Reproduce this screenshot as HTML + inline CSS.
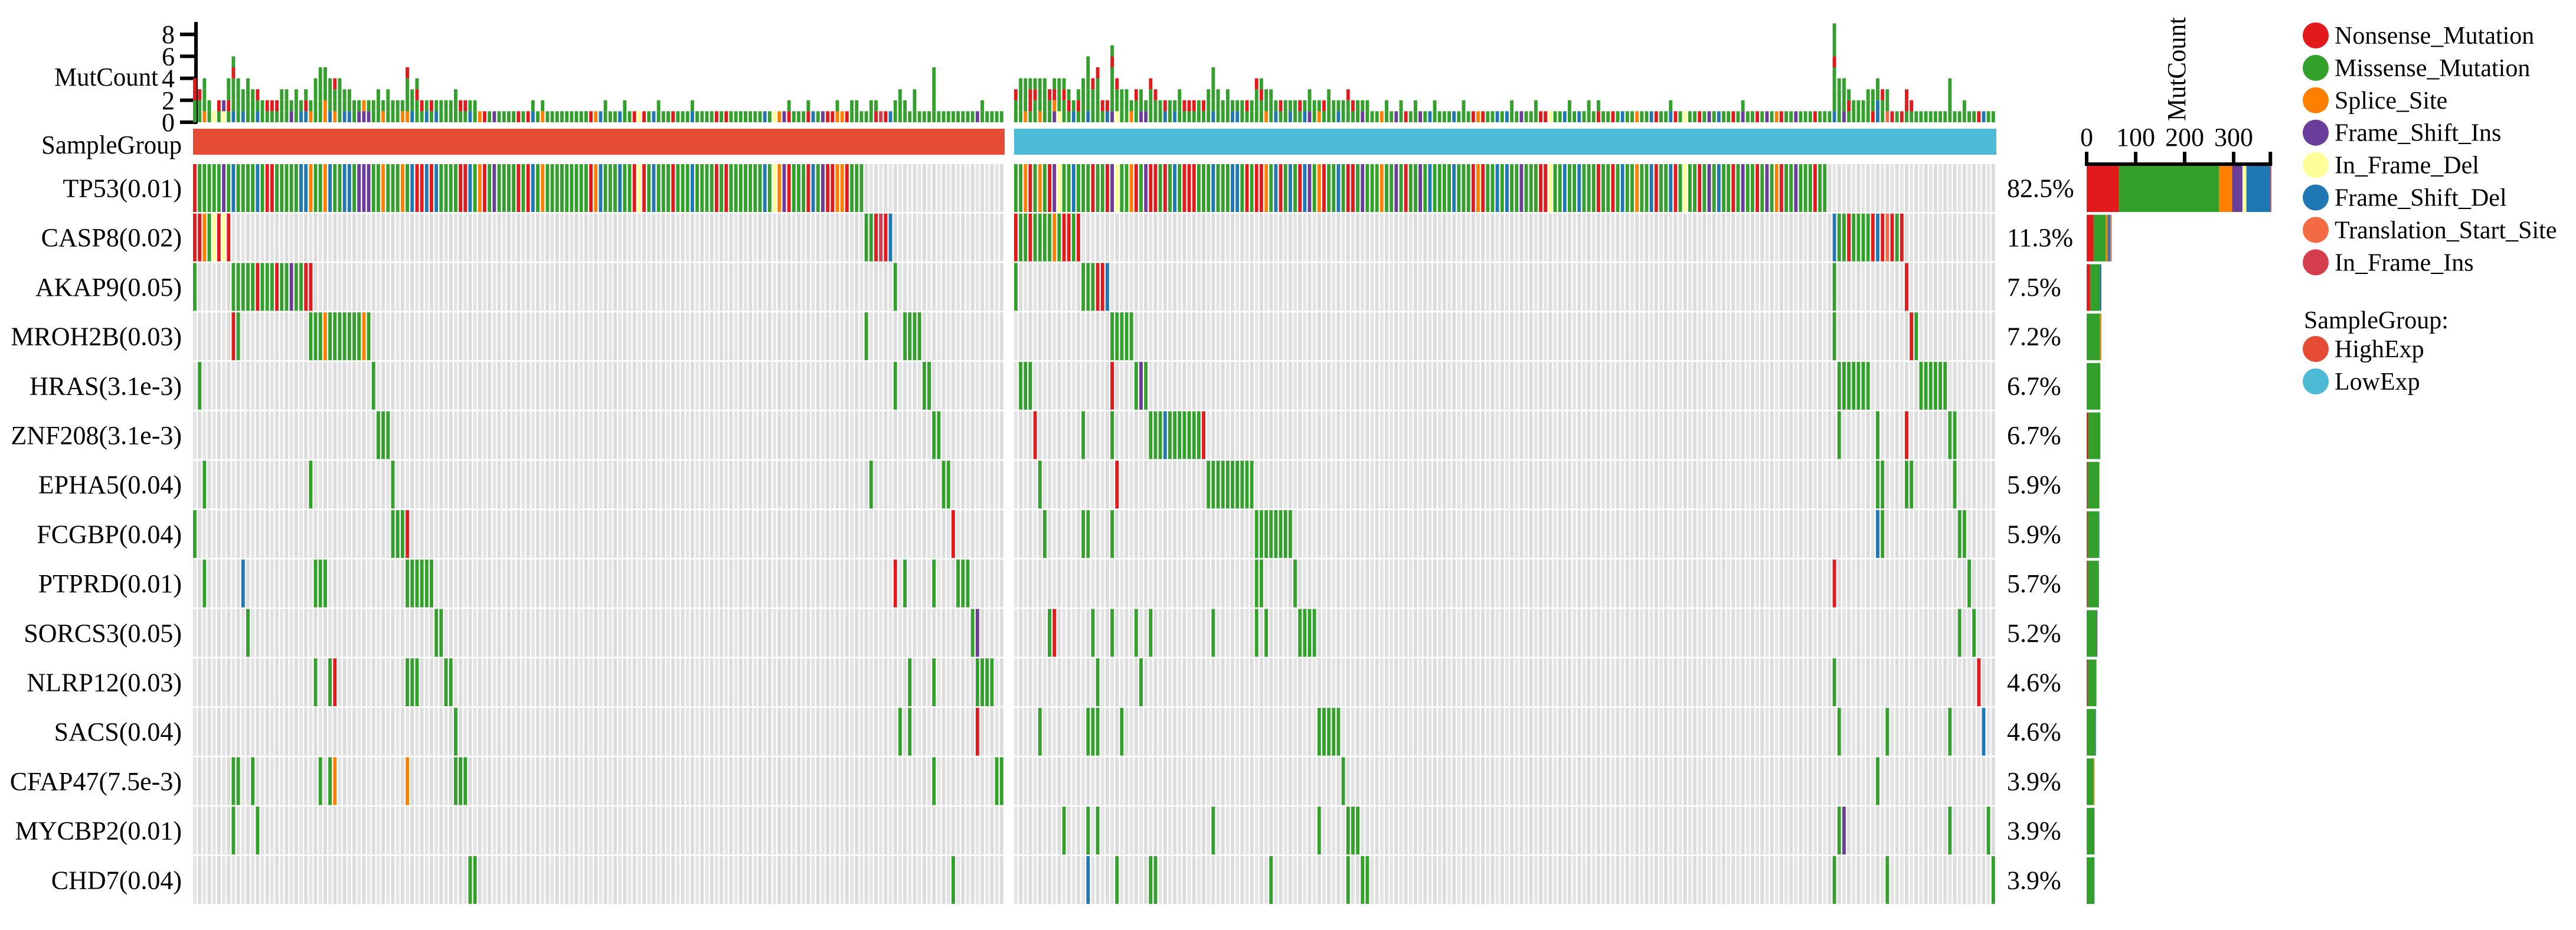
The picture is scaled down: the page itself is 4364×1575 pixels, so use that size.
<!DOCTYPE html>
<html><head><meta charset="utf-8">
<style>
html,body{margin:0;padding:0;background:#fff;}
svg{display:block;font-family:"Liberation Serif",serif;}
</style></head>
<body>
<svg id="chart" xmlns="http://www.w3.org/2000/svg" width="4364" height="1575" viewBox="0 0 4364 1575">
<g id="top-axis"></g>
<g id="top-bars"></g>
<g id="group-bar"></g>
<g id="grid"></g>
<g id="labels"></g>
<g id="rbars"></g>
<g id="legend"></g>
</svg>
<script>
const genes = ["TP53(0.01)","CASP8(0.02)","AKAP9(0.05)","MROH2B(0.03)","HRAS(3.1e-3)","ZNF208(3.1e-3)","EPHA5(0.04)","FCGBP(0.04)","PTPRD(0.01)","SORCS3(0.05)","NLRP12(0.03)","SACS(0.04)","CFAP47(7.5e-3)","MYCBP2(0.01)","CHD7(0.04)"];
const percents = ["82.5%","11.3%","7.5%","7.2%","6.7%","6.7%","5.9%","5.9%","5.7%","5.2%","4.6%","4.6%","3.9%","3.9%","3.9%"];
const groups = ["HighExp","LowExp"];
const groupSizes = [168, 204];
const mutTypes = ["Nonsense_Mutation","Missense_Mutation","Splice_Site","Frame_Shift_Ins","In_Frame_Del","Frame_Shift_Del","Translation_Start_Site","In_Frame_Ins"];
const typeCodes = ["N","M","S","I","D","F","T","J"];
const typeColors = ["#E31A1C","#33A02C","#FF7F00","#6A3D9A","#FFFF99","#1F78B4","#F26B43","#D53E4F"];
const groupColors = ["#E64B35","#4DBBD5"];
// run-length coded mutation rows, HighExp panel
const mutHigh = [
"N M5 I M F M4 F M N2 M5 F2 S M2 S F M2 F2 M I3 M2 S M3 S M F N2 F N F M4 N2 F M S N M I M4 N M N F M S M9 N S F M3 F M2 N D N M F M3 N M3 F M4 N M N M7 F M D S I N M3 N F M I N2 S2 N M3",
"N2 S M D N D N .131 M2 N J N F .23",
"M .7 M5 N M3 N M2 I M2 N2 .120 M .22",
".8 N M .14 M3 S M7 S M .102 M .7 M4 .17",
".1 M .35 M .107 M .5 M2 .15",
".38 M3 .112 M2 .13",
".2 M .21 M .16 M .98 M .14 M2 .11",
"M .40 M3 N .112 N .10",
".2 M .7 F .14 M3 .16 M6 .95 N .1 M .5 M .4 M3 .7",
".11 M .38 M2 .109 M I .5",
".25 M .2 M N .14 M3 .5 M2 .94 M .4 M .8 M4 .2",
".54 M .91 M .1 M .13 N .5",
".8 M2 .2 M .13 M .1 M S .14 S .9 M3 .96 M .12 M2",
".8 M .4 M .154",
".57 M2 .98 M .10"
];
// LowExp panel
const mutLow = [
"M2 S N M S M N I D M2 F M3 N M2 N I D M2 S N M I N2 M N M F M N3 M3 F M3 F2 M N M N2 S M F N M F M N F I M S N M2 F M N2 M I M3 S M2 I M N M2 I M F M4 F M3 N S N M2 F M F M2 I M3 N2 D M2 F M2 F M M2 N M2 N M F M2 S M2 F N M2 F N M D M2 N M I M F M2 N M I M2 N M I M S N M2 I M3 N M2",
"N M2 N M4 S M N2 M N .156 F M2 N M4 N F N T N M N .19",
"M .13 M3 N2 F .150 M .14 N .18",
".20 M5 .145 M .15 N M .16",
".1 M3 .16 N .4 M I M .143 M7 .10 M6 .10",
".4 N .9 M .5 M .7 M3 F M7 N .131 M .7 M .5 N .8 M2 .8",
".5 M .15 N .18 M10 .129 M2 .4 M2 .8 M .8",
".6 M .7 M2 .4 M .29 M8 .121 F M .15 M2 .6",
".50 M2 .6 M .111 N .27 M .5",
".7 M N .7 M .3 M .4 M .2 M .12 M .8 M .1 M .6 M4 .133 M .2 M .4",
".17 M .8 M .143 M .29 N .3",
".5 M .9 M3 .4 M .40 M5 .103 M .9 M .12 M .6 F .2",
".68 M .110 M .24",
".10 M .4 M .1 M .23 M .21 M .5 M3 .99 M I .21 M .7 M .1",
".15 F .5 M .6 M2 .23 M .15 M .2 M2 .96 M .10 M .21 M"
];
// per-sample total mutation counts (run-length: value x count)
const countsHigh = "4 3 4 2 1 2 2 4 6 4 3 4 3 3 2 2 2 2 3 3 2 3 2 3 2 4 5 5 4 4 4 3 3 2 2 2 2 2 3 2 3 2 2 2 5 3 4 2x7 3 2x4 1x11 2 1 2 1x12 2 1x3 2 1x6 2 1x6 2 1x19 2 1x3 2 1x5 2 1x2 2x2 1x2 2x2 1x3 2 3 2 1 3 1x3 5 1x3 1 1x5 2 1x4";
const countsLow = "3 4x6 3 4x3 3 2 3 4 6 4 5 2 2 7 4 3 3 2 3 3 2 4 3 2x4 3 2x5 3 5 3 2 3 2x5 4 4 3 3 2x7 3 2x3 3 2x3 3 2x4 1x3 2 1x2 2 1x2 2 1x3 2 1x5 2 1x9 2 1x4 2 1x6 2 1x3 2 1 2 1x14 2 1x14 2 1x18 9 4 4 3 2x3 3 3 4 3 3 1x3 3 2 1x7 4 1x2 2 1x6";
// right bar counts per gene: N,M,S,I,D,F,T,J
const geneTypeCounts = [
[66,204,27,21,8,49,0,2],[14,25,4,0,0,5,3,0],[7,20,0,0,0,3,0,0],[0,27,3,0,0,0,0,0],[0,28,0,0,0,0,0,0],
[3,25,0,0,0,0,0,0],[2,24,0,0,0,0,0,0],[2,23,0,0,0,1,0,0],[2,22,0,0,0,1,0,0],[1,20,0,1,0,0,0,0],
[2,18,0,0,0,0,0,0],[0,18,0,0,0,1,0,0],[0,14,2,0,0,0,0,0],[0,15,0,1,0,0,0,0],[0,15,0,0,0,1,0,0]];
const topTicks = [0,2,4,6,8];
const rightTicks = [0,100,200,300];

const NS="http://www.w3.org/2000/svg";
function mk(tag, attrs, parent){const e=document.createElementNS(NS,tag);for(const k in attrs)e.setAttribute(k,attrs[k]);parent.appendChild(e);return e;}
function decode(s,n){let out=[];s.trim().split(/\s+/).forEach(t=>{const c=t[0];const k=t.length>1?parseInt(t.slice(1)):1;for(let i=0;i<k;i++)out.push(c);});while(out.length<n)out.push(".");return out.slice(0,n);}
function decodeCounts(s,n){let out=[];s.trim().split(/\s+/).forEach(t=>{const p=t.split("x");const v=+p[0];const k=p.length>1?+p[1]:1;for(let i=0;i<k;i++)out.push(v);});while(out.length<n)out.push(1);return out.slice(0,n);}

const panels=[{x0:327,x1:1702,n:groupSizes[0],rows:mutHigh,counts:decodeCounts(countsHigh,groupSizes[0])},
              {x0:1718,x1:3382,n:groupSizes[1],rows:mutLow,counts:decodeCounts(countsLow,groupSizes[1])}];
const rowY0=278,rowPitch=83.7,rowH=81;
const baseY=207,unit=18.6;
const yTop=v=>baseY-v*unit;
const rowY=i=>rowY0+i*rowPitch;
const rx0=3535,rUnit=0.83;
const xR=v=>rx0+v*rUnit;

const gGrid=document.getElementById("grid"),gTop=document.getElementById("top-bars"),gGroup=document.getElementById("group-bar");
panels.forEach((p,pi)=>{
  const pitch=(p.x1-p.x0)/p.n, w=pitch*0.72;
  const decoded=p.rows.map(r=>decode(r,p.n));
  const gb=mk("rect",{x:p.x0,y:218,width:p.x1-p.x0,height:44,fill:groupColors[pi]},gGroup);
  
  
  for(let c=0;c<p.n;c++){
    const x=p.x0+c*pitch;
    decoded.forEach((row,gi)=>{
      const t=row[c];const ti=typeCodes.indexOf(t);
      const cell=mk("rect",{x:x,y:rowY(gi),width:w,height:rowH,fill:ti<0?(c%2?"#DCDCDC":"#E4E4E4"):typeColors[ti]},gGrid);
      
      
    });
    // top stacked bar
    const total=p.counts[c];
    let segs=[];decoded.forEach(row=>{const ti=typeCodes.indexOf(row[c]);if(ti>=0)segs.push(ti);});
    segs.sort((a,b)=>b-a);
    segs=segs.slice(0,total);
    while(segs.length<total)segs.push(1);
    let acc=0;
    segs.forEach(ti=>{
      const b=mk("rect",{x:x,y:yTop(acc+1),width:w,height:unit,fill:typeColors[ti]},gTop);
      
      
      acc++;
    });
  }
});

// top axis
const gAx=document.getElementById("top-axis");
const al=mk("line",{x1:332,y1:yTop(8)-21,x2:332,y2:yTop(0)+2,stroke:"#000","stroke-width":6},gAx);


topTicks.forEach(v=>{
  const tk=mk("line",{x1:305,y1:yTop(v),x2:334,y2:yTop(v),stroke:"#000","stroke-width":6},gAx);
  
  
  const tl=mk("text",{x:296,y:yTop(v)+15,"font-size":44,"text-anchor":"end"},gAx);
  tl.textContent=v;
  
  
});
const mt=mk("text",{x:92,y:145,"font-size":44,textLength:176,lengthAdjust:"spacingAndGlyphs"},gAx);
mt.textContent="MutCount";


const sg=mk("text",{x:70,y:260,"font-size":44,textLength:238,lengthAdjust:"spacingAndGlyphs"},gAx);
sg.textContent="SampleGroup";



// gene labels & percent labels
const gLab=document.getElementById("labels");
genes.forEach((g,i)=>{
  const t=mk("text",{x:308,y:rowY(i)+rowH/2+15,"font-size":44,"text-anchor":"end"},gLab);
  t.textContent=g;
  
  
  const pt=mk("text",{x:3400,y:rowY(i)+rowH/2+15,"font-size":44},gLab);
  pt.textContent=percents[i];
  
  
});

// right bars
const gR=document.getElementById("rbars");
geneTypeCounts.forEach((arr,i)=>{
  let acc=0;
  arr.forEach((v,ti)=>{
    if(v<=0)return;
    const r=mk("rect",{x:xR(acc),y:rowY(i)+2,width:v*rUnit,height:rowH-2,fill:typeColors[ti]},gR);
    
    
    acc+=v;
  });
});
const rAxEnd=xR(375);
const ra=mk("line",{x1:rx0-3,y1:278,x2:rAxEnd+3,y2:278,stroke:"#000","stroke-width":6},gR);


rightTicks.concat([375]).forEach(v=>{
  const tk=mk("line",{x1:xR(v),y1:257,x2:xR(v),y2:278,stroke:"#000","stroke-width":6},gR);
  
  
});
rightTicks.forEach(v=>{
  const tl=mk("text",{x:xR(v),y:247,"font-size":44,"text-anchor":"middle"},gR);
  tl.textContent=v;
  
  
});
const rt=mk("text",{x:0,y:0,"font-size":44,transform:"translate(3702,205) rotate(-90)",textLength:176,lengthAdjust:"spacingAndGlyphs"},gR);
rt.textContent="MutCount";



// legend
const gL=document.getElementById("legend");
mutTypes.forEach((m,i)=>{
  const cy=60+i*54.9;
  const c=mk("circle",{cx:3923,cy:cy,r:22,fill:typeColors[i]},gL);
  
  
  const t=mk("text",{x:3955,y:cy+14,"font-size":42},gL);
  t.textContent=m;
  
  
});
const lt=mk("text",{x:3903,y:556,"font-size":42},gL);
lt.textContent="SampleGroup:";


groups.forEach((g,i)=>{
  const cy=591+i*55;
  const c=mk("circle",{cx:3923,cy:cy,r:22,fill:groupColors[i]},gL);
  
  
  const t=mk("text",{x:3955,y:cy+14,"font-size":42},gL);
  t.textContent=g;
  
  
});
</script>
</body></html>
